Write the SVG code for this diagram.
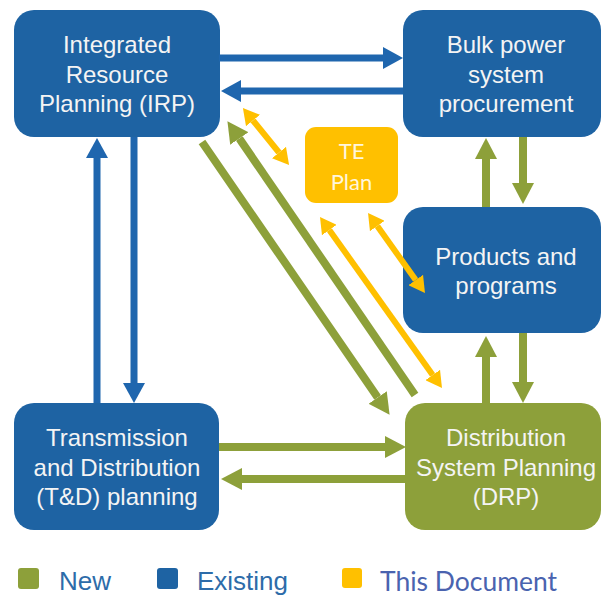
<svg xmlns="http://www.w3.org/2000/svg" width="602" height="597" viewBox="0 0 602 597">
  <style>
    .box-blue { fill: #1E63A3; }
    .box-green { fill: #8DA03A; }
    .box-orange { fill: #FFC000; }
    .label { font-family: "Liberation Sans", Arial, sans-serif; font-size: 24px; fill: #F4F4F4; text-anchor: middle; }
    .label-te { font-family: Lato, "Noto Sans", sans-serif; font-size: 22px; fill: #FFF6DC; text-anchor: middle; }
    .c-blue { stroke: #1F66AE; stroke-width: 7; fill: none; }
    .c-green { stroke: #8DA03A; stroke-width: 8; fill: none; }
    .c-orange { stroke: #FFC000; stroke-width: 6; fill: none; }
    .legend { font-family: "Liberation Sans", Arial, sans-serif; font-size: 26px; fill: #2D6CA9; }
    .legend-doc { font-family: Lato, "Noto Sans", sans-serif; font-size: 26px; fill: #4A63AF; }
  </style>
  <defs>
    <marker id="head-blue" viewBox="0 0 20 22" refX="0" refY="11" markerWidth="20" markerHeight="22" markerUnits="userSpaceOnUse" orient="auto-start-reverse">
      <path d="M0,0 L20,11 L0,22 Z" fill="#1F66AE"/>
    </marker>
    <marker id="head-green" viewBox="0 0 21 22" refX="0" refY="11" markerWidth="21" markerHeight="22" markerUnits="userSpaceOnUse" orient="auto-start-reverse">
      <path d="M0,0 L21,11 L0,22 Z" fill="#8DA03A"/>
    </marker>
    <marker id="head-orange" viewBox="0 0 16 18" refX="0" refY="9" markerWidth="16" markerHeight="18" markerUnits="userSpaceOnUse" orient="auto-start-reverse">
      <path d="M0,0 L16,9 L0,18 Z" fill="#FFC000"/>
    </marker>
  </defs>

  <!-- nodes -->
  <g id="irp">
    <rect class="box-blue" x="14" y="10" width="206" height="127" rx="20"/>
    <text class="label" x="117" y="53">Integrated</text>
    <text class="label" x="117" y="83">Resource</text>
    <text class="label" x="117" y="112">Planning (IRP)</text>
  </g>

  <g id="bulk-power">
    <rect class="box-blue" x="403" y="10" width="198" height="127" rx="20"/>
    <text class="label" x="506" y="53">Bulk power</text>
    <text class="label" x="506" y="83">system</text>
    <text class="label" x="506" y="112">procurement</text>
  </g>

  <g id="te-plan">
    <rect class="box-orange" x="305" y="127" width="93" height="76" rx="11"/>
    <text class="label-te" x="351.5" y="159">TE</text>
    <text class="label-te" x="351.5" y="190">Plan</text>
  </g>

  <g id="products">
    <rect class="box-blue" x="403" y="207" width="198" height="126" rx="20"/>
    <text class="label" x="506" y="265">Products and</text>
    <text class="label" x="506" y="294">programs</text>
  </g>

  <g id="td-planning">
    <rect class="box-blue" x="14" y="403" width="205" height="127" rx="20"/>
    <text class="label" x="117" y="446">Transmission</text>
    <text class="label" x="117" y="476">and Distribution</text>
    <text class="label" x="117" y="505">(T&amp;D) planning</text>
  </g>

  <g id="drp">
    <rect class="box-green" x="405" y="403" width="196" height="127" rx="20"/>
    <text class="label" x="506" y="446">Distribution</text>
    <text class="label" x="506" y="476">System Planning</text>
    <text class="label" x="506" y="505">(DRP)</text>
  </g>

  <!-- connectors, drawn over the boxes -->
  <g id="connectors">
    <!-- IRP <-> bulk power -->
    <line class="c-blue" x1="219" y1="58" x2="383" y2="58" marker-end="url(#head-blue)"/>
    <line class="c-blue" x1="403" y1="91" x2="241" y2="91" marker-end="url(#head-blue)"/>
    <!-- IRP <-> T&D -->
    <line class="c-blue" x1="97" y1="403" x2="97" y2="158" marker-end="url(#head-blue)"/>
    <line class="c-blue" x1="134" y1="137" x2="134" y2="383" marker-end="url(#head-blue)"/>
    <!-- bulk power <-> products -->
    <line class="c-green" x1="486" y1="207" x2="486" y2="159" marker-end="url(#head-green)"/>
    <line class="c-green" x1="523" y1="137" x2="523" y2="183" marker-end="url(#head-green)"/>
    <!-- products <-> DRP -->
    <line class="c-green" x1="486" y1="403" x2="486" y2="357" marker-end="url(#head-green)"/>
    <line class="c-green" x1="523" y1="333" x2="523" y2="382" marker-end="url(#head-green)"/>
    <!-- T&D <-> DRP -->
    <line class="c-green" x1="219" y1="447" x2="385" y2="447" marker-end="url(#head-green)"/>
    <line class="c-green" x1="405" y1="479" x2="242" y2="479" marker-end="url(#head-green)"/>
    <!-- IRP <-> DRP diagonals -->
    <line class="c-green" x1="202" y1="142" x2="377.7" y2="397.5" marker-end="url(#head-green)"/>
    <line class="c-green" x1="415" y1="395" x2="239.3" y2="138.5" marker-end="url(#head-green)"/>
    <!-- TE plan links -->
    <line class="c-orange" x1="253" y1="120.5" x2="279" y2="152.5" marker-start="url(#head-orange)" marker-end="url(#head-orange)"/>
    <line class="c-orange" x1="329.3" y1="230" x2="432.7" y2="375" marker-start="url(#head-orange)" marker-end="url(#head-orange)"/>
    <line class="c-orange" x1="377.3" y1="226" x2="415.7" y2="280" marker-start="url(#head-orange)" marker-end="url(#head-orange)"/>
  </g>

  <!-- legend -->
  <g id="legend">
    <rect x="18" y="568" width="21" height="21" rx="3" fill="#8DA03A"/>
    <text class="legend" x="59" y="590">New</text>
    <rect x="157" y="568" width="21" height="21" rx="3" fill="#1E63A3"/>
    <text class="legend" x="197" y="590">Existing</text>
    <rect x="342" y="568" width="20" height="20" rx="3" fill="#FFC000"/>
    <text class="legend-doc" x="380" y="591" textLength="177" lengthAdjust="spacingAndGlyphs">This Document</text>
  </g>
</svg>
